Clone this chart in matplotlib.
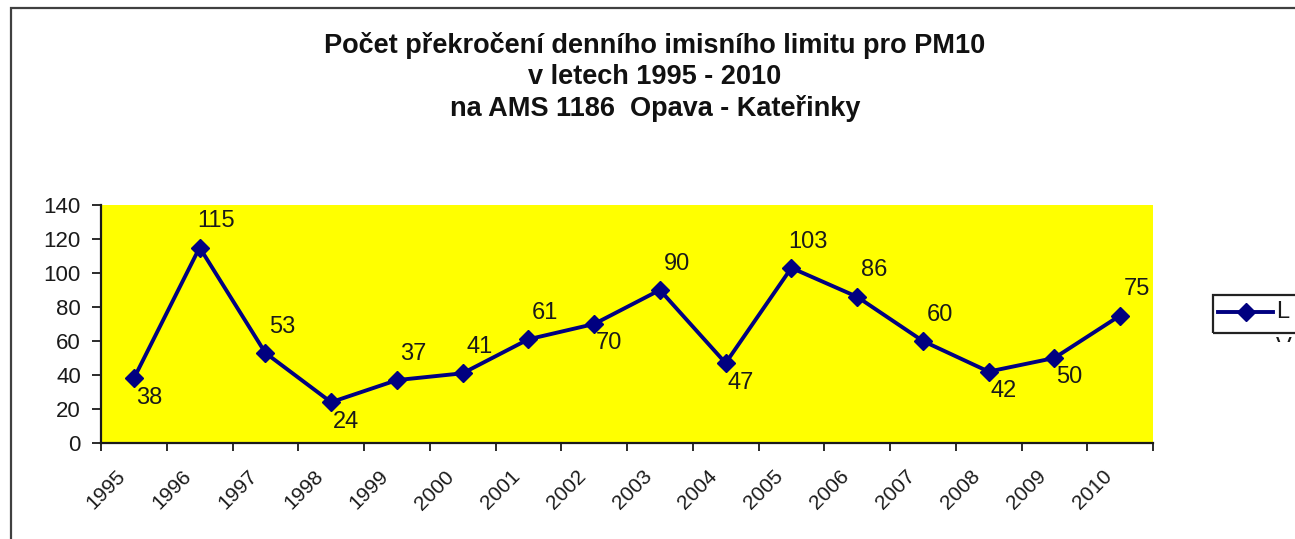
import matplotlib
matplotlib.use("Agg")
import matplotlib.pyplot as plt
from matplotlib.patches import Rectangle
from matplotlib.lines import Line2D

years = ["1995", "1996", "1997", "1998", "1999", "2000", "2001", "2002",
         "2003", "2004", "2005", "2006", "2007", "2008", "2009", "2010"]
counts = [38, 115, 53, 24, 37, 41, 61, 70, 90, 47, 103, 86, 60, 42, 50, 75]
label_side = ["below", "above", "above", "below", "above", "above", "above", "below",
              "above", "below", "above", "above", "above", "below", "below", "above"]

title = "Počet překročení denního imisního limitu pro PM10\nv letech 1995 - 2010\nna AMS 1186  Opava - Kateřinky"

plt.rcParams['font.family'] = ['Liberation Sans', 'DejaVu Sans']

W, H = 1295, 539
fig = plt.figure(figsize=(W / 100, H / 100), dpi=100)

def fx(px):
    return px / W

def fy(py):
    return 1 - py / H

# outer frame (cut by image edges)
fig.patches.append(Rectangle((fx(11), fy(560)), fx(1320) - fx(11), fy(8) - fy(560),
                             transform=fig.transFigure, fill=False,
                             edgecolor="#404040", linewidth=1.6, zorder=0))

ax = fig.add_axes([fx(101), fy(443), fx(1153) - fx(101), fy(205) - fy(443)])
ax.set_facecolor("#FFFF00")

navy = "#000080"
x = list(range(len(years)))
ax.plot(x, counts, color=navy, linewidth=2.8, marker="D", markersize=9.5,
        markerfacecolor=navy, markeredgecolor=navy, zorder=3, clip_on=False)

for xi, v, side in zip(x, counts, label_side):
    off = (12, 19) if side == "above" else (11, -14)
    ax.annotate(str(v), (xi, v), xytext=off, textcoords="offset points",
                ha="center", va="center", fontsize=17, color="#1a1a1a")

ax.set_xlim(-0.5, len(years) - 0.5)
ax.set_ylim(0, 140)
ax.set_yticks(range(0, 141, 20))
ax.tick_params(axis="y", labelsize=16, length=6.5, width=1.3, direction="out",
               colors="#1a1a1a", pad=8)
ax.set_xticks([i - 0.5 for i in range(len(years) + 1)])
ax.set_xticklabels([])
ax.tick_params(axis="x", length=6, width=1.3, direction="out", colors="#1a1a1a")
for xi, lab in zip(x, years):
    ax.annotate(lab, (xi, 0), xytext=(-8, -22), textcoords="offset points",
                rotation=45, rotation_mode="anchor", ha="right", va="center",
                fontsize=15, color="#1a1a1a", annotation_clip=False)

for s in ["top", "right"]:
    ax.spines[s].set_visible(False)
for s in ["left", "bottom"]:
    ax.spines[s].set_linewidth(1.6)
    ax.spines[s].set_color("#1a1a1a")

fig.text(fx(655), fy(77), title, ha="center", va="center", fontsize=19.5,
         fontweight="bold", linespacing=1.25, color="#111111")

# legend (cut by right edge)
fig.patches.append(Rectangle((fx(1213), fy(333)), fx(1320) - fx(1213), fy(295) - fy(333),
                             transform=fig.transFigure, fill=False,
                             edgecolor="#222222", linewidth=1.6, zorder=5))
fig.lines.append(Line2D([fx(1218), fx(1273)], [fy(312), fy(312)],
                        transform=fig.transFigure, color=navy, linewidth=2.8, zorder=6))
fig.lines.append(Line2D([fx(1246)], [fy(312)], transform=fig.transFigure,
                        color=navy, marker="D", markersize=9.5, zorder=6))
fig.text(fx(1276), fy(312), "L", ha="left", va="center", fontsize=17, color="#1a1a1a")
vtxt = fig.text(fx(1276), fy(348), "V", ha="left", va="center", fontsize=17, color="#1a1a1a")
clip = Rectangle((fx(1213), fy(342)), fx(1320) - fx(1213), fy(333) - fy(342),
                 transform=fig.transFigure, visible=False)
fig.patches.append(clip)
vtxt.set_clip_path(clip)

fig.savefig("out.png", dpi=100)
